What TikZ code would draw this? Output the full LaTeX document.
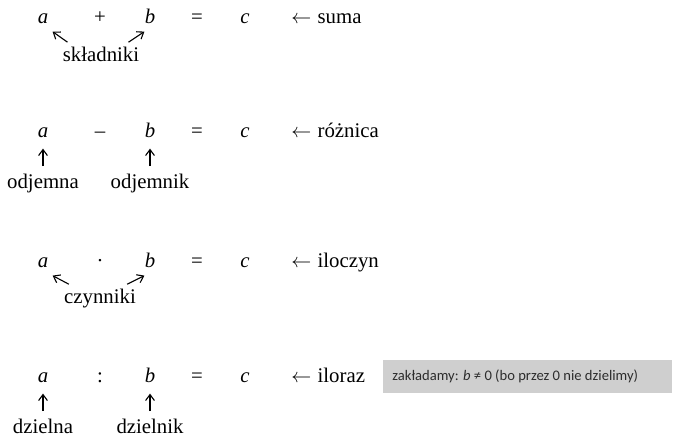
\documentclass[tikz,border=0pt]{standalone}
\usepackage{fontspec}
\setmainfont{Liberation Serif}
\newfontfamily\notefont{Carlito}
\usetikzlibrary{arrows.meta, calc}
\definecolor{notegray}{RGB}{207,207,207}
\definecolor{notetext}{RGB}{45,45,45}

\begin{document}
\begin{tikzpicture}[x=0.5pt, y=-0.5pt,
    term/.style={inner sep=0pt, anchor=base, font=\fontsize{10.4}{12}\selectfont},
    pointer/.style={line width=0.55pt, arrows={-Straight Barb[length=3pt, width=4.4pt]}}]
  \useasboundingbox (0,0) rectangle (675,441);
  % the four equations
  \foreach \r/\y/\op/\word in {1/23/+/suma, 2/137/–/różnica, 3/267/·/iloczyn, 4/382/:/iloraz} {
    \node [term] (a\r) at (43,\y) {\textit{a}};
    \node [term] (op\r) at (100,\y) {\op};
    \node [term] (b\r) at (150,\y) {\textit{b}};
    \node [term] (eq\r) at (197,\y) {=};
    \node [term] (c\r) at (245,\y) {\textit{c}};
    \node [term, anchor=base west] (res\r) at (291,\y) {$\leftarrow$\hspace{0.3em}\word};
  }
  % names of the parts
  \node [term] (skladniki) at (101,61) {składniki};
  \draw [pointer] ($(skladniki.north west)+(5,-4)$) -- ($(a1.south east)+(4,8)$);
  \draw [pointer] ($(skladniki.north east)+(-11,-4)$) -- ($(b1.south west)+(0,8)$);
  \node [term] (odjemna) at (43,188) {odjemna};
  \node [term] (odjemnik) at (150,188) {odjemnik};
  \draw [pointer] ($(odjemna.north)+(0,-7)$) -- ($(a2.south)+(0,11)$);
  \draw [pointer] ($(odjemnik.north)+(0,-7)$) -- ($(b2.south)+(0,11)$);
  \node [term] (czynniki) at (100,303) {czynniki};
  \draw [pointer] ($(czynniki.north west)+(5,-4)$) -- ($(a3.south east)+(4,8)$);
  \draw [pointer] ($(czynniki.north east)+(-9,-4)$) -- ($(b3.south west)+(0,8)$);
  \node [term] (dzielna) at (43,433) {dzielna};
  \node [term] (dzielnik) at (150,433) {dzielnik};
  \draw [pointer] ($(dzielna.north)+(0,-7)$) -- ($(a4.south)+(0,11)$);
  \draw [pointer] ($(dzielnik.north)+(0,-7)$) -- ($(b4.south)+(0,11)$);
  % remark beside the quotient
  \node [fill=notegray, anchor=west, minimum width=144.5pt, minimum height=16.5pt,
         inner sep=0pt] (note) at (383,376.5) {};
  \node [anchor=west, inner sep=0pt, text=notetext,
         font=\notefont\fontsize{7.3}{9}\selectfont] (remark) at ($(note.west)+(9,0)$)
    {zakładamy: \textit{b} ≠ 0 (bo przez 0 nie dzielimy)};
\end{tikzpicture}
\end{document}
